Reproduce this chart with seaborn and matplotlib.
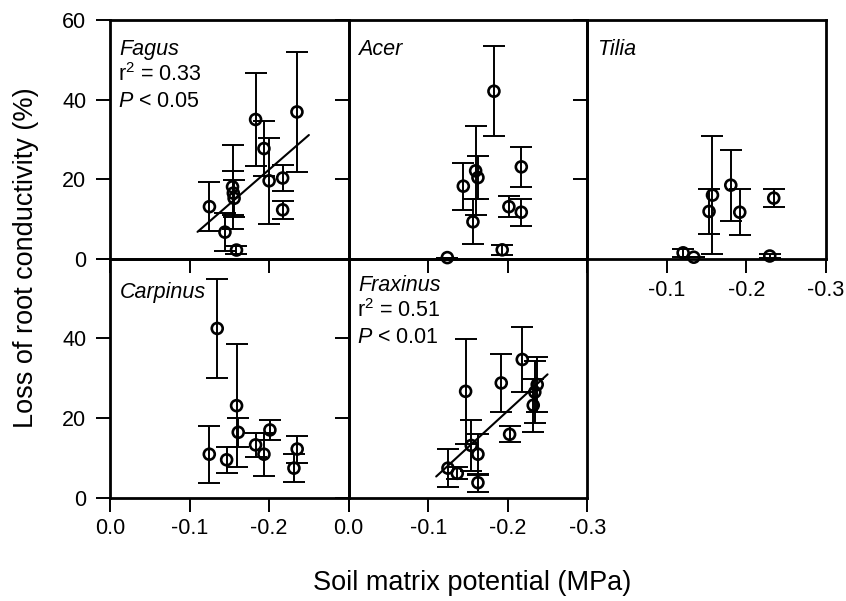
import numpy as np
import matplotlib
matplotlib.use('Agg')
import matplotlib.pyplot as plt
import seaborn as sns

# values (x = soil matrix potential, MPa)
fagus_x = [-0.125, -0.1445, -0.159, -0.154, -0.155, -0.156, -0.183, -0.1935, -0.200, -0.217, -0.217, -0.235]
fagus_y = [13.1, 6.7, 2.2, 18.1, 16.5, 15.2, 35.0, 27.7, 19.6, 20.3, 12.3, 36.9]
fagus_err = [6.2, 4.8, 1.0, 10.5, 5.6, 4.6, 11.7, 7.0, 10.8, 3.3, 2.2, 15.0]

acer_x = [-0.124, -0.1441, -0.1596, -0.1625, -0.1562, -0.1826, -0.193, -0.2014, -0.217, -0.217]
acer_y = [0.3, 18.25, 22.1, 20.4, 9.3, 42.1, 2.25, 13.1, 11.7, 23.1]
acer_err = [0.0, 5.9, 11.2, 5.4, 5.6, 11.3, 1.3, 2.6, 3.4, 5.0]

tilia_x = [-0.1204, -0.1338, -0.153, -0.1573, -0.1803, -0.1916, -0.2343, -0.2293]
tilia_y = [1.5, 0.4, 11.9, 16.0, 18.5, 11.7, 15.25, 0.7]
tilia_err = [1.0, 0.0, 5.7, 14.8, 8.9, 5.75, 2.2, 0.5]

carpinus_x = [-0.1348, -0.1591, -0.1612, -0.1248, -0.1466, -0.183, -0.1935, -0.201, -0.2353, -0.2312]
carpinus_y = [42.5, 23.1, 16.4, 10.9, 9.5, 13.25, 10.9, 17.0, 12.2, 7.4]
carpinus_err = [12.4, 15.4, 3.7, 7.2, 3.2, 3.1, 5.4, 2.5, 3.4, 3.6]

fraxinus_x = [-0.1248, -0.1365, -0.147, -0.1541, -0.1625, -0.1625, -0.1918, -0.2023, -0.2182, -0.237, -0.234, -0.232]
fraxinus_y = [7.4, 6.1, 26.7, 13.1, 10.9, 3.75, 28.8, 15.9, 34.7, 28.4, 26.5, 23.2]
fraxinus_err = [4.8, 1.5, 13.2, 6.4, 5.2, 2.3, 7.4, 2.0, 8.1, 7.0, 7.7, 6.6]

# x range over which the fitted lines are drawn
fit_range = [-0.11, -0.25]

x_ticks = [0.0, -0.1, -0.2, -0.3]
y_ticks = [0, 20, 40, 60]

sns.set_theme(style='ticks')
plt.rcParams['font.family'] = ['Liberation Sans', 'DejaVu Sans']
plt.rcParams['mathtext.fontset'] = 'custom'
plt.rcParams['mathtext.rm'] = 'Liberation Sans'
plt.rcParams['mathtext.it'] = 'Liberation Sans:italic'
plt.rcParams['text.color'] = 'black'
plt.rcParams['xtick.color'] = 'black'
plt.rcParams['ytick.color'] = 'black'

SMALL = 15.5


def draw_panel(ax, x, y, err, name, name_y, stats=None, fit=False):
    ax.set_facecolor('none')
    ax.errorbar(x, y, yerr=err, fmt='none', ecolor='black', elinewidth=1.4,
                capsize=8, capthick=1.4, clip_on=False, zorder=2)
    sns.scatterplot(x=x, y=y, ax=ax, marker='o', s=62, facecolor='none',
                    edgecolor='black', linewidth=1.9, clip_on=False, zorder=3,
                    legend=False)
    if fit:
        coef = np.polyfit(x, y, 1)
        fx = np.array(fit_range)
        sns.lineplot(x=fx, y=np.polyval(coef, fx), ax=ax, color='black',
                     linewidth=1.5, zorder=2)
    ax.set_xlim(0, -0.3)
    ax.set_ylim(0, 60)
    ax.set_xticks(x_ticks)
    ax.set_yticks(y_ticks)
    ax.set_xlabel('')
    ax.set_ylabel('')
    ax.tick_params(direction='out', length=10, width=1.4, pad=7,
                   labelsize=SMALL, labelbottom=False, labelleft=False)
    ax.tick_params(axis='x', pad=5)
    for s in ax.spines.values():
        s.set_visible(True)
        s.set_linewidth(2.0)
        s.set_color('black')
    ax.text(0.04, name_y, name, transform=ax.transAxes, fontsize=SMALL,
            style='italic', va='baseline', ha='left')
    if stats:
        ax.text(0.033, name_y - 0.11, r'r$^{2}$ = ' + stats[0],
                transform=ax.transAxes, fontsize=SMALL, va='baseline')
        ax.text(0.033, name_y - 0.218, r'$P$ < ' + stats[1],
                transform=ax.transAxes, fontsize=SMALL, va='baseline')


fig = plt.figure(figsize=(8.46, 6.01), dpi=100)
gs = fig.add_gridspec(2, 3, left=110 / 846, right=826 / 846,
                      top=1 - 20 / 601, bottom=1 - 497.6 / 601,
                      wspace=0, hspace=0)

ax_fagus = fig.add_subplot(gs[0, 0])
ax_acer = fig.add_subplot(gs[0, 1])
ax_tilia = fig.add_subplot(gs[0, 2])
ax_carpinus = fig.add_subplot(gs[1, 0])
ax_fraxinus = fig.add_subplot(gs[1, 1])

draw_panel(ax_fagus, fagus_x, fagus_y, fagus_err, 'Fagus', 0.855,
           stats=('0.33', '0.05'), fit=True)
draw_panel(ax_acer, acer_x, acer_y, acer_err, 'Acer', 0.855)
draw_panel(ax_tilia, tilia_x, tilia_y, tilia_err, 'Tilia', 0.855)
draw_panel(ax_carpinus, carpinus_x, carpinus_y, carpinus_err, 'Carpinus', 0.835)
draw_panel(ax_fraxinus, fraxinus_x, fraxinus_y, fraxinus_err, 'Fraxinus', 0.865,
           stats=('0.51', '0.01'), fit=True)

# tick labels only on the outer edges
ax_fagus.tick_params(labelleft=True)
ax_fagus.set_yticklabels(['0', '20', '40', '60'])
ax_carpinus.tick_params(labelleft=True, labelbottom=True)
ax_carpinus.set_yticklabels(['0', '20', '40', ''])
ax_carpinus.set_xticklabels(['0.0', '-0.1', '-0.2', ''])
ax_fraxinus.tick_params(labelbottom=True)
ax_fraxinus.set_xticklabels(['0.0', '-0.1', '-0.2', '-0.3'])
ax_tilia.tick_params(labelbottom=True)
ax_tilia.set_xticklabels(['', '-0.1', '-0.2', '-0.3'])

fig.text(0.031, 0.571, 'Loss of root conductivity (%)', rotation=90,
         ha='center', va='center', fontsize=19.5)
fig.text(0.558, 0.030, 'Soil matrix potential (MPa)', ha='center',
         va='center', fontsize=19.5)

fig.savefig('out.png', dpi=100)
